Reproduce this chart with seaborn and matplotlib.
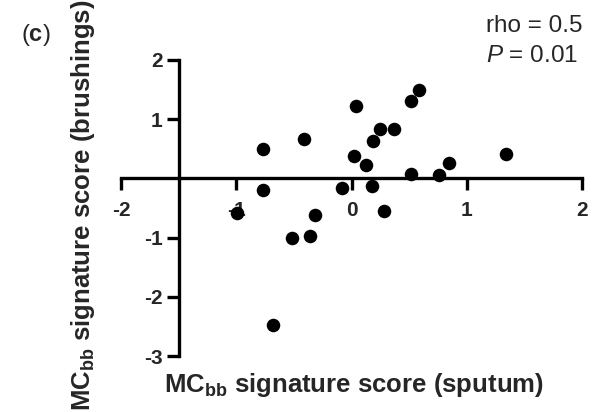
import matplotlib
matplotlib.use("Agg")
import matplotlib.pyplot as plt
import seaborn as sns
import pandas as pd

sns.set_style("white")
plt.rcParams['font.family'] = ['Liberation Sans', 'DejaVu Sans']
plt.rcParams['mathtext.fontset'] = 'custom'
plt.rcParams['mathtext.rm'] = 'Liberation Sans'
plt.rcParams['mathtext.bf'] = 'Liberation Sans:bold'
plt.rcParams['mathtext.it'] = 'Liberation Sans:italic'

sputum = [1.34, 0.59, 0.52, 0.04, 0.25, 0.37, 0.19, -0.41, -0.77, 0.02, 0.13, 0.85,
          0.52, 0.76, -0.77, -0.08, 0.18, 0.28, -0.99, -0.32, -0.52, -0.36, -0.68]
brushings = [0.42, 1.49, 1.30, 1.23, 0.83, 0.84, 0.64, 0.67, 0.50, 0.37, 0.23, 0.26,
             0.08, 0.05, -0.19, -0.17, -0.12, -0.55, -0.58, -0.61, -1.00, -0.98, -2.48]
x_ticks = [-2, -1, 0, 1, 2]
y_ticks = [-3, -2, -1, 1, 2]

df = pd.DataFrame({"sputum": sputum, "brushings": brushings})

fig = plt.figure(figsize=(6, 4.12), dpi=100)
ax = fig.add_axes([121/600, 1-356/412, (582-121)/600, (356-60)/412])

sns.scatterplot(data=df, x="sputum", y="brushings", ax=ax, color="black",
                s=95, linewidth=0, zorder=3, clip_on=False)

ax.set_xlim(-2, 2)
ax.set_ylim(-3, 2)
ax.spines['top'].set_visible(False)
ax.spines['right'].set_visible(False)
ax.spines['left'].set_position(('data', -1.5))
ax.spines['bottom'].set_position(('data', 0))
for s in ['left', 'bottom']:
    ax.spines[s].set_linewidth(2.4)
    ax.spines[s].set_color('black')
    ax.spines[s].set_capstyle('projecting')

ax.set_xticks(x_ticks)
ax.set_yticks(y_ticks)
ax.set_xticklabels([str(v) for v in x_ticks], fontsize=15, fontweight='bold')
ax.set_yticklabels([str(v) for v in y_ticks], fontsize=15, fontweight='bold')
ax.tick_params(axis='x', direction='out', length=8.5, width=2.4, pad=8, color='black')
ax.tick_params(axis='y', direction='out', length=8.5, width=2.4, pad=3, color='black')
ax.tick_params(left=True, bottom=True)
ax.set_xlabel("")
ax.set_ylabel("")
ax.grid(False)

fig.text(354/600, 1-385/412, r"$\mathbf{MC_{bb}}$ signature score (sputum)",
         fontsize=18.5, fontweight='bold', ha='center', va='center')
fig.text(83/600, 1-205/412, r"$\mathbf{MC_{bb}}$ signature score (brushings)",
         fontsize=18.5, fontweight='bold', ha='center', va='center', rotation=90)
fig.text(21/600, 1-35/412, r"($\mathbf{c}$)", fontsize=17, ha='left', va='center')
fig.text(486/600, 1-32/412, "rho = 0.5", fontsize=17.5, ha='left', va='baseline')
fig.text(486/600, 1-62/412, r"$\mathit{P}$ = 0.01", fontsize=17.5, ha='left', va='baseline')

fig.savefig("out.png", dpi=100)
